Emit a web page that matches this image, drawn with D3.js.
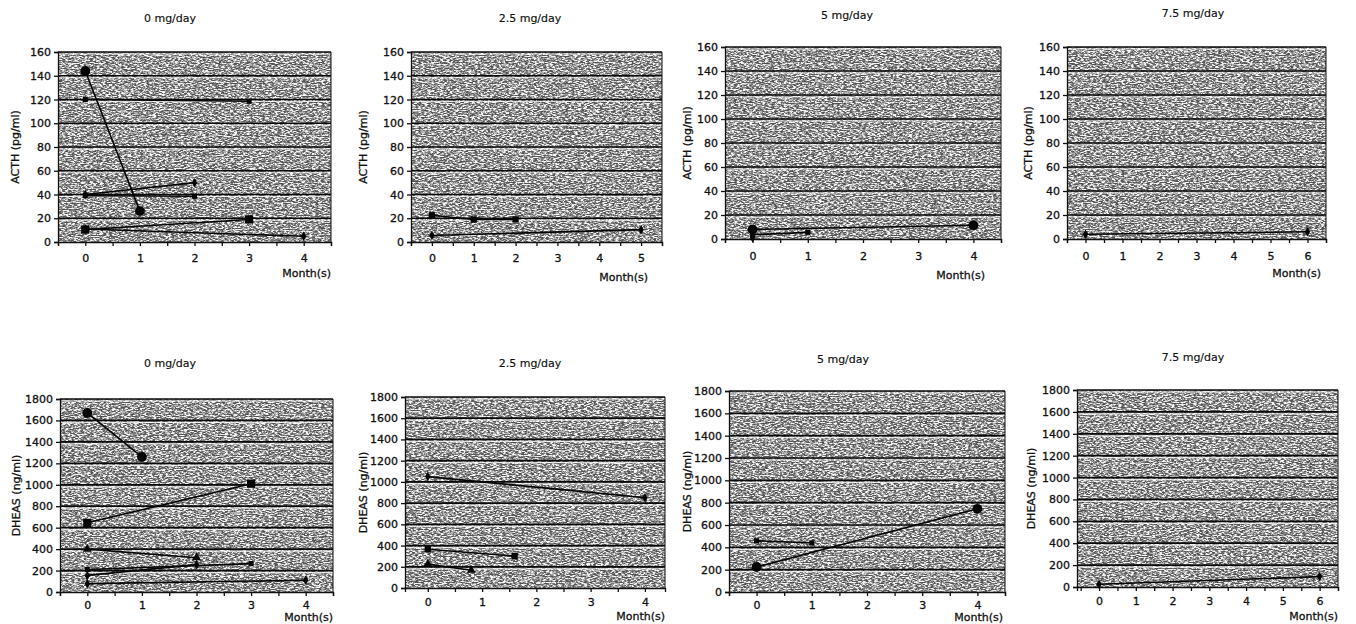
<!DOCTYPE html>
<html>
<head>
<meta charset="utf-8">
<script src="https://cdn.jsdelivr.net/npm/d3@7"></script>
<style>
  body { margin: 0; background: #fff; }
  svg text { font-family: "DejaVu Sans", sans-serif; font-size: 11px; fill: #111; stroke: #111; stroke-width: 0.3px; }
</style>
</head>
<body>
<svg id="chart" width="1356" height="624"></svg>
<script>
// ---- data ----
const doseTitles = ["0 mg/day", "2.5 mg/day", "5 mg/day", "7.5 mg/day"];
const acthTicks = [0, 20, 40, 60, 80, 100, 120, 140, 160];
const dheasTicks = [0, 200, 400, 600, 800, 1000, 1200, 1400, 1600, 1800];
const monthLabels = [[0, 1, 2, 3, 4], [0, 1, 2, 3, 4, 5], [0, 1, 2, 3, 4], [0, 1, 2, 3, 4, 5, 6]];
const monthLabelsDheas = [[0, 1, 2, 3, 4], [0, 1, 2, 3, 4], [0, 1, 2, 3, 4], [0, 1, 2, 3, 4, 5, 6]];

// each series = list of [month, value]
const acth0 = [
    [[0, 144], [1, 26]],
    [[0, 120], [3, 118.5]],
    [[0, 40], [2, 50]],
    [[0, 39], [2, 38.5]],
    [[0, 10.5], [3, 19]],
    [[0, 11], [4, 4.8]]
];
const acth25 = [
    [[0, 22.5], [1, 19], [2, 19]],
    [[0, 5.5], [5, 10.4]]
];
const acth5 = [
    [[0, 8], [4, 11.5]],
    [[0, 3.5], [1, 5.5]],
    [[0, 1]]
];
const acth75 = [
    [[0, 4], [6, 6]]
];
const dheas0 = [
    [[0, 1670], [1, 1260]],
    [[0, 645], [3, 1010]],
    [[0, 400], [2, 320]],
    [[0, 155], [2, 255]],
    [[0, 210], [3, 265]],
    [[0, 78], [4, 109]]
];
const dheas25 = [
    [[0, 1050], [4, 850]],
    [[0, 365], [1.6, 300]],
    [[0, 225], [0.8, 167]]
];
const dheas5 = [
    [[0, 224], [4, 745]],
    [[0, 458], [1, 440]]
];
const dheas75 = [
    [[0, 25], [6, 95]]
];

// marker kind per series (same order as above)
const acth0Marks = ["bigCircle", "smallSquare", "diamond", "smallSquare", "bigSquare", "diamond"];
const acth25Marks = ["square", "diamond"];
const acth5Marks = ["bigCircle", "smallSquare", "diamond"];
const acth75Marks = ["diamond"];
const dheas0Marks = ["bigCircle", "bigSquare", "triangle", "diamond", "smallSquare", "diamond"];
const dheas25Marks = ["diamond", "square", "triangle"];
const dheas5Marks = ["bigCircle", "smallSquare"];
const dheas75Marks = ["diamond"];

// ---- layout of the eight panels (pixel boxes) ----
const panels = [
    {box: [58, 331, 52, 242],   xDom: [-0.5, 4.5],  title: [170, 18],  yLab: 15,   month: [331, 273],  pad: 8, series: acth0,   marks: acth0Marks,   ticks: acthTicks,  months: monthLabels[0], name: "ACTH (pg/ml)", dose: doseTitles[0]},
    {box: [411, 662, 52, 242],  xDom: [-0.5, 5.5],  title: [530, 18],  yLab: 363,  month: [648, 277],  pad: 8, series: acth25,  marks: acth25Marks,  ticks: acthTicks,  months: monthLabels[1], name: "ACTH (pg/ml)", dose: doseTitles[1]},
    {box: [725, 1001, 47, 239], xDom: [-0.5, 4.5],  title: [847, 15],  yLab: 687,  month: [985, 275],  pad: 9, series: acth5,   marks: acth5Marks,   ticks: acthTicks,  months: monthLabels[2], name: "ACTH (pg/ml)", dose: doseTitles[2]},
    {box: [1067, 1326, 47, 239],xDom: [-0.5, 6.5],  title: [1193, 13], yLab: 1028, month: [1321, 273], pad: 9, series: acth75,  marks: acth75Marks,  ticks: acthTicks,  months: monthLabels[3], name: "ACTH (pg/ml)", dose: doseTitles[3]},
    {box: [60, 333, 399, 592],  xDom: [-0.5, 4.5],  title: [170, 363], yLab: 16,   month: [333, 617],  pad: 5, series: dheas0,  marks: dheas0Marks,  ticks: dheasTicks, months: monthLabelsDheas[0], name: "DHEAS (ng/ml)", dose: doseTitles[0]},
    {box: [405, 665, 397, 588], xDom: [-0.42, 4.37],title: [530, 363], yLab: 363,  month: [665, 616],  pad: 6, series: dheas25, marks: dheas25Marks, ticks: dheasTicks, months: monthLabelsDheas[1], name: "DHEAS (ng/ml)", dose: doseTitles[1]},
    {box: [729, 1005, 391, 592],xDom: [-0.5, 4.5],  title: [843, 359], yLab: 687,  month: [1003, 617], pad: 5, series: dheas5,  marks: dheas5Marks,  ticks: dheasTicks, months: monthLabelsDheas[2], name: "DHEAS (ng/ml)", dose: doseTitles[2]},
    {box: [1077, 1338, 390, 587],xDom: [-0.6, 6.5], title: [1193, 357],yLab: 1031, month: [1338, 616], pad: 6, series: dheas75, marks: dheas75Marks, ticks: dheasTicks, months: monthLabelsDheas[3], name: "DHEAS (ng/ml)", dose: doseTitles[3]}
];

const symbolFor = {
    bigCircle:   d3.symbol().type(d3.symbolCircle).size(76),
    bigSquare:   d3.symbol().type(d3.symbolSquare).size(68),
    square:      d3.symbol().type(d3.symbolSquare).size(40),
    smallSquare: d3.symbol().type(d3.symbolSquare).size(26),
    diamond:     d3.symbol().type(d3.symbolDiamond).size(26),
    triangle:    d3.symbol().type(d3.symbolTriangle).size(34)
};

const svg = d3.select("#chart");

// scanned stipple look for the plot area
const defs = svg.append("defs");
const speckle = defs.append("filter")
    .attr("id", "speckle")
    .attr("x", 0).attr("y", 0).attr("width", 1).attr("height", 1)
    .attr("filterUnits", "objectBoundingBox");
speckle.append("feTurbulence")
    .attr("type", "fractalNoise")
    .attr("baseFrequency", "0.32 0.85")
    .attr("numOctaves", 3)
    .attr("seed", 7)
    .attr("result", "noise");
speckle.append("feColorMatrix")
    .attr("in", "noise")
    .attr("type", "matrix")
    .attr("values", "1 0 0 0 0  1 0 0 0 0  1 0 0 0 0  0 0 0 0 1")
    .attr("result", "grey");
const transfer = speckle.append("feComponentTransfer").attr("in", "grey");
const table = "0.08 0.08 0.08 0.1 0.2 0.46 0.86 0.97 0.97 0.97";
["feFuncR", "feFuncG", "feFuncB"].forEach(f => {
    transfer.append(f).attr("type", "discrete").attr("tableValues", table);
});

panels.forEach(p => {
    const [left, right, top, bottom] = p.box;
    const maxY = p.ticks[p.ticks.length - 1];

    const x = d3.scaleLinear().domain(p.xDom).range([left, right]);
    const y = d3.scaleLinear().domain([0, maxY]).range([bottom, top]);

    const g = svg.append("g");

    g.append("rect")
        .attr("x", left).attr("y", top)
        .attr("width", right - left).attr("height", bottom - top)
        .attr("fill", "#999")
        .attr("filter", "url(#speckle)");

    // light band just under each grid line, as on the print
    g.append("g")
        .selectAll("line")
        .data(p.ticks.slice(1))
        .join("line")
        .attr("x1", left).attr("x2", right)
        .attr("y1", d => y(d) + 2).attr("y2", d => y(d) + 2)
        .attr("stroke", "#fff")
        .attr("stroke-opacity", 0.75)
        .attr("stroke-width", 1.2);

    // horizontal grid lines
    g.append("g")
        .selectAll("line")
        .data(p.ticks.slice(1))
        .join("line")
        .attr("x1", left).attr("x2", right)
        .attr("y1", d => y(d)).attr("y2", d => y(d))
        .attr("stroke", "#0a0a0a")
        .attr("stroke-width", 1.7);

    // right border
    g.append("line")
        .attr("x1", right).attr("x2", right)
        .attr("y1", top).attr("y2", bottom)
        .attr("stroke", "#111")
        .attr("stroke-width", 1);

    // axes
    const halfSteps = d3.range(-0.5, p.xDom[1] + 0.01, 0.5).filter(v => v >= p.xDom[0] - 0.001);
    const xAxis = d3.axisBottom(x)
        .tickValues(halfSteps)
        .tickSize(4)
        .tickPadding(p.pad)
        .tickFormat(d => (Number.isInteger(d) && p.months.includes(d)) ? d : "");

    const yAxis = d3.axisLeft(y)
        .tickValues(p.ticks)
        .tickSize(4)
        .tickPadding(3)
        .tickFormat(d3.format("d"));

    const gx = g.append("g")
        .attr("transform", `translate(0, ${bottom})`)
        .call(xAxis);
    const gy = g.append("g")
        .attr("transform", `translate(${left}, 0)`)
        .call(yAxis);

    [gx, gy].forEach(a => {
        a.attr("font-size", null).attr("font-family", null);
        a.selectAll("path, line").attr("stroke", "#111").attr("stroke-width", 1.3);
        a.selectAll("text").attr("fill", "#111");
    });

    // titles and axis labels
    g.append("text")
        .attr("x", p.title[0]).attr("y", p.title[1])
        .attr("text-anchor", "middle")
        .attr("dy", "0.35em")
        .style("stroke-width", "0.15px")
        .text(p.dose);

    g.append("text")
        .attr("transform", `translate(${p.yLab}, ${(top + bottom) / 2}) rotate(-90)`)
        .attr("text-anchor", "middle")
        .attr("dy", "0.35em")
        .text(p.name);

    g.append("text")
        .attr("x", p.month[0]).attr("y", p.month[1])
        .attr("text-anchor", "end")
        .attr("dy", "0.35em")
        .text("Month(s)");

    // series lines + markers
    const line = d3.line().x(d => x(d[0])).y(d => y(d[1]));

    p.series.forEach((s, i) => {
        if (s.length > 1) {
            g.append("path")
                .datum(s)
                .attr("d", line)
                .attr("fill", "none")
                .attr("stroke", "#050505")
                .attr("stroke-width", 1.6);
        }
        g.append("g")
            .selectAll("path")
            .data(s)
            .join("path")
            .attr("transform", d => `translate(${x(d[0])}, ${y(d[1])})`)
            .attr("d", symbolFor[p.marks[i]])
            .attr("fill", "#050505");
    });
});
</script>
</body>
</html>
